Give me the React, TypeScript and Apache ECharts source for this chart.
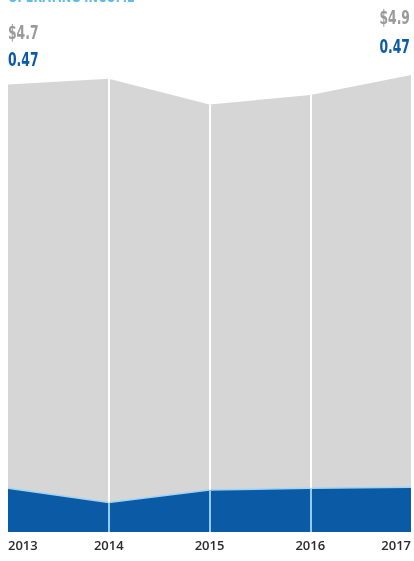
import React, { useEffect, useRef } from "react";
import * as echarts from "echarts";

const years = ["2013", "2014", "2015", "2016", "2017"];
const revenue = [4.7, 4.76, 4.49, 4.59, 4.8];
const operatingIncome = [0.46, 0.31, 0.44, 0.46, 0.47];
const title = "OPERATING INCOME";
const revenueLabels = ["$4.7", "$4.9"];
const incomeLabels = ["0.47", "0.47"];
const innerYears = ["2014", "2015", "2016"];

export default function App() {
  const ref = useRef<HTMLDivElement>(null);
  useEffect(() => {
    if (!ref.current) return;
    const chart = echarts.init(ref.current, null, { renderer: "svg" });
    const revLines = innerYears.map((y) => {
      const i = years.indexOf(y);
      return [{ coord: [y, 0] }, { coord: [y, revenue[i]] }];
    });
    const incLines = innerYears.map((y) => {
      const i = years.indexOf(y);
      return [{ coord: [y, 0] }, { coord: [y, operatingIncome[i]] }];
    });
    const condensed = "bold 20px 'DejaVu Sans', sans-serif";
    const sx = 0.62;
    chart.setOption({
      animation: false,
      grid: { left: 8, right: 0, top: 56, bottom: 29 },
      xAxis: {
        type: "category",
        data: years,
        boundaryGap: false,
        axisLine: { show: false },
        axisTick: { show: false },
        splitLine: { show: false },
        axisLabel: {
          color: "#2a2a2a",
          fontSize: 13,
          fontWeight: 600,
          fontFamily: "'Open Sans', sans-serif",
          margin: 6,
          alignMinLabel: "left",
          alignMaxLabel: "right",
        },
      },
      yAxis: {
        type: "value",
        min: 0,
        max: 5,
        show: false,
        splitLine: { show: false },
      },
      series: [
        {
          type: "line",
          data: revenue,
          z: 1,
          symbol: "none",
          lineStyle: { width: 0, color: "#d6d6d6" },
          areaStyle: { color: "#d6d6d6", opacity: 1 },
          markLine: {
            silent: true,
            symbol: "none",
            label: { show: false },
            lineStyle: { color: "#ffffff", width: 2, type: "solid" },
            data: revLines,
          },
        },
        {
          type: "line",
          data: operatingIncome,
          z: 2,
          symbol: "none",
          lineStyle: { width: 1.5, color: "#9fd3f2" },
          areaStyle: { color: "#0b5aa5", opacity: 1 },
          markLine: {
            silent: true,
            symbol: "none",
            label: { show: false },
            lineStyle: { color: "#8fcdf0", width: 2, type: "solid" },
            data: incLines,
          },
        },
      ],
      graphic: [
        {
          type: "text",
          x: 8,
          y: -11,
          scaleX: 0.75,
          style: {
            text: title,
            font: "bold 15px 'DejaVu Sans', sans-serif",
            fill: "#5bbce6",
            verticalAlign: "top",
            align: "left",
          },
        },
        {
          type: "text",
          x: 8,
          y: 32,
          scaleX: sx,
          style: {
            text: revenueLabels[0],
            font: condensed,
            fill: "#9a9a9a",
            verticalAlign: "middle",
            align: "left",
          },
        },
        {
          type: "text",
          x: 8,
          y: 59,
          scaleX: sx,
          style: {
            text: incomeLabels[0],
            font: condensed,
            fill: "#0b5aa5",
            verticalAlign: "middle",
            align: "left",
          },
        },
        {
          type: "text",
          x: 410,
          y: 17,
          scaleX: sx,
          style: {
            text: revenueLabels[1],
            font: condensed,
            fill: "#9a9a9a",
            verticalAlign: "middle",
            align: "right",
          },
        },
        {
          type: "text",
          x: 410,
          y: 46,
          scaleX: sx,
          style: {
            text: incomeLabels[1],
            font: condensed,
            fill: "#0b5aa5",
            verticalAlign: "middle",
            align: "right",
          },
        },
      ],
    });
    return () => chart.dispose();
  }, []);
  return (
    <div
      ref={ref}
      style={{ position: "fixed", left: 0, top: 0, width: 414, height: 561 }}
    />
  );
}
